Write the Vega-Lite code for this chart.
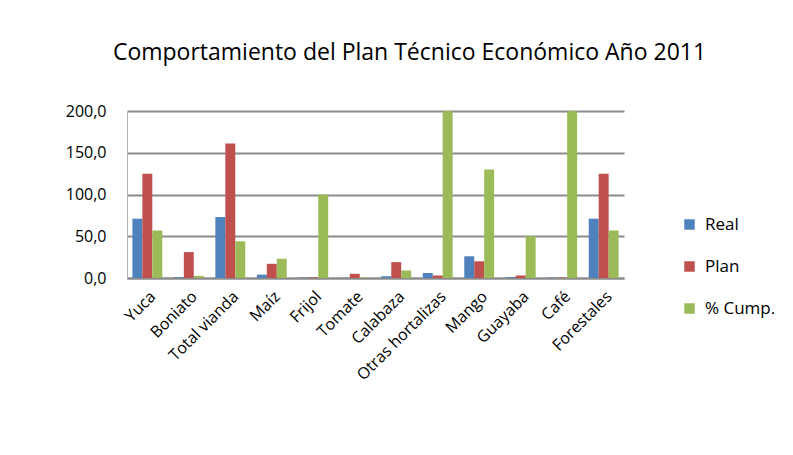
{
  "$schema": "https://vega.github.io/schema/vega-lite/v6.json",
  "width": 497,
  "height": 167,
  "padding": {"left": 65, "top": 42, "right": 5, "bottom": 5},
  "background": "white",
  "title": {"text": "Comportamiento del Plan Técnico Económico  Año 2011", "font": "Open Sans", "fontSize": 23, "fontWeight": "normal", "color": "#000000", "offset": 38, "anchor": "middle", "dx": 34},
  "data": {"values": [
    {"cultivo": "Yuca", "serie": "Real", "valor": 71},
    {"cultivo": "Yuca", "serie": "Plan", "valor": 125},
    {"cultivo": "Yuca", "serie": "% Cump.", "valor": 57},
    {"cultivo": "Boniato", "serie": "Real", "valor": 1},
    {"cultivo": "Boniato", "serie": "Plan", "valor": 31},
    {"cultivo": "Boniato", "serie": "% Cump.", "valor": 2.5},
    {"cultivo": "Total vianda", "serie": "Real", "valor": 73},
    {"cultivo": "Total vianda", "serie": "Plan", "valor": 161},
    {"cultivo": "Total vianda", "serie": "% Cump.", "valor": 44},
    {"cultivo": "Maíz", "serie": "Real", "valor": 4},
    {"cultivo": "Maíz", "serie": "Plan", "valor": 17},
    {"cultivo": "Maíz", "serie": "% Cump.", "valor": 23},
    {"cultivo": "Frijol", "serie": "Real", "valor": 0.5},
    {"cultivo": "Frijol", "serie": "Plan", "valor": 0.8},
    {"cultivo": "Frijol", "serie": "% Cump.", "valor": 100},
    {"cultivo": "Tomate", "serie": "Real", "valor": 0.3},
    {"cultivo": "Tomate", "serie": "Plan", "valor": 5},
    {"cultivo": "Tomate", "serie": "% Cump.", "valor": 0.6},
    {"cultivo": "Calabaza", "serie": "Real", "valor": 2},
    {"cultivo": "Calabaza", "serie": "Plan", "valor": 19},
    {"cultivo": "Calabaza", "serie": "% Cump.", "valor": 9},
    {"cultivo": "Otras hortalizas", "serie": "Real", "valor": 6},
    {"cultivo": "Otras hortalizas", "serie": "Plan", "valor": 3},
    {"cultivo": "Otras hortalizas", "serie": "% Cump.", "valor": 200},
    {"cultivo": "Mango", "serie": "Real", "valor": 26},
    {"cultivo": "Mango", "serie": "Plan", "valor": 20},
    {"cultivo": "Mango", "serie": "% Cump.", "valor": 130},
    {"cultivo": "Guayaba", "serie": "Real", "valor": 1},
    {"cultivo": "Guayaba", "serie": "Plan", "valor": 3},
    {"cultivo": "Guayaba", "serie": "% Cump.", "valor": 50},
    {"cultivo": "Café", "serie": "Real", "valor": 0.5},
    {"cultivo": "Café", "serie": "Plan", "valor": 0.5},
    {"cultivo": "Café", "serie": "% Cump.", "valor": 200},
    {"cultivo": "Forestales", "serie": "Real", "valor": 71},
    {"cultivo": "Forestales", "serie": "Plan", "valor": 125},
    {"cultivo": "Forestales", "serie": "% Cump.", "valor": 57}
  ]},
  "mark": {"type": "bar", "stroke": null},
  "encoding": {
    "x": {"field": "cultivo", "type": "nominal", "sort": null, "title": null,
      "scale": {"paddingInner": 0.28, "paddingOuter": 0.13},
      "axis": {"labelAngle": -45, "labelFont": "Open Sans", "labelFontSize": 16, "labelColor": "#000000", "domainColor": "#8c8c8c", "domainWidth": 2, "ticks": false, "labelPadding": 10}},
    "xOffset": {"field": "serie", "type": "nominal", "sort": ["Real", "Plan", "% Cump."]},
    "y": {"field": "valor", "type": "quantitative", "title": null,
      "scale": {"domain": [0, 200]},
      "axis": {"values": [0, 50, 100, 150, 200], "labelExpr": "replace(format(datum.value, '.1f'), '.', ',')", "labelFont": "Open Sans", "labelFontSize": 16, "labelColor": "#000000", "gridColor": "#8c8c8c", "gridWidth": 2, "domain": true, "domainColor": "#b0b0b0", "domainWidth": 1, "ticks": false, "labelPadding": 21}},
    "color": {"field": "serie", "type": "nominal", "sort": ["Real", "Plan", "% Cump."],
      "scale": {"domain": ["Real", "Plan", "% Cump."], "range": ["#4F81BD", "#C0504D", "#9BBB59"]},
      "legend": {"title": null, "labelFont": "Open Sans", "labelFontSize": 17, "labelColor": "#000000", "symbolType": "square", "symbolSize": 110, "symbolStrokeWidth": 0, "labelOffset": 7, "rowPadding": 24, "orient": "none", "legendX": 554, "legendY": 105, "padding": 0}}
  },
  "config": {"view": {"stroke": null}}
}
